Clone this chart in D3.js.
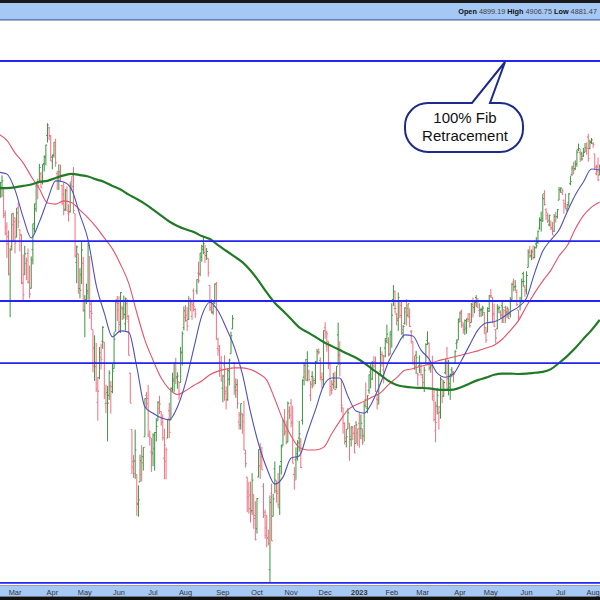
<!DOCTYPE html>
<html><head><meta charset="utf-8">
<script src="https://cdn.jsdelivr.net/npm/d3@7"></script>
<style>html,body{margin:0;padding:0;background:#fff;overflow:hidden}svg{display:block}</style>
</head><body>
<svg id="chart" width="600" height="600"></svg>
<script>
// ---------- DATA ----------
const startDate = "2022-02-14", endDate = "2023-08-08";
const holidays = ["2022-02-21","2022-04-15","2022-05-30","2022-06-20","2022-07-04","2022-09-05","2022-11-24","2022-12-26",
  "2023-01-02","2023-01-16","2023-02-20","2023-04-07","2023-05-29","2023-06-19","2023-07-04"];

const open = [
 4412,4429,4455,4456,4385,4332,4324,4155,4298,4355,
 4364,4322,4401,4342,4328,4202,4223,4253,4279,4203,4188,4289,4345,4398,4462,4470,4494,4470,4523,4541,4602,4624,4600,
 4541,4547,4573,4495,4475,4494,4462,4437,4395,4449,4385,4390,4473,4489,4385,4255,4278,4187,4223,4253,
 4130,4159,4181,4270,4128,4082,4036,3990,3903,3963,4013,4053,4051,3900,3927,3920,3943,3929,3985,4078,4151,
 4149,4095,4137,4135,4097,4148,4102,3974,3838,3763,3764,3733,3665,3716,3733,3774,3821,3920,3913,3826,3785,
 3781,3793,3831,3859,3888,3881,3865,3771,3764,3818,3883,3861,3936,3955,4000,3965,3953,3951,4026,4087,
 4113,4105,4108,4155,4116,4181,4133,4181,4227,4225,4269,4290,4281,4273,4266,4195,4133,4126,4153,4198,4035,4041,4001,
 3937,3994,3930,3910,3959,4022,4084,4000,3940,3932,3856,3849,3875,3871,3782,3727,3682,3686,3651,3687,3633,
 3610,3727,3753,3774,3706,3647,3595,3591,3520,3690,3638,3746,3696,3690,3657,3763,3800,3825,3834,3809,3882,
 3901,3853,3733,3767,3781,3818,3810,3860,3964,3978,4007,3977,3920,3966,3956,3956,4000,4024,4005,3964,3958,
 4087,4041,4053,3996,3933,3947,3954,3940,4069,4016,3958,3890,3853,3810,3839,3853,3815,3843,3829,3805,3830,
 3853,3840,3840,3823,3910,3889,3932,3977,3960,3999,4003,3911,3909,3979,4001,3982,4036,4054,4049,4021,
 4070,4159,4136,4120,4106,4154,4144,4074,4098,4127,4119,4114,4077,4053,4001,4018,3974,3992,3977,
 3964,3938,3998,4055,4048,3987,3999,3907,3835,3894,3876,3879,3958,3918,3975,4002,3960,3940,3982,3974,3999,4047,4056,
 4102,4128,4094,4082,4086,4111,4122,4100,4141,4138,4164,4140,4131,4133,4132,4126,4087,4076,4129,
 4166,4164,4123,4082,4084,4136,4125,4143,4133,4139,4127,4128,4122,4158,4204,4191,4177,4132,4155,4156,4226,4191,
 4184,4242,4283,4272,4285,4268,4304,4308,4346,4367,4366,4440,4396,4380,4355,4354,4344,4338,4368,4377,4422,
 4450,4443,4422,4404,4395,4416,4467,4492,4515,4509,4522,4563,4554,4550,4544,4555,4559,4598,4565,4585,
 4579,4550,4495,4514,4491,4498];
const high = [
 4426,4472,4490,4456,4394,4362,4340,4294,4385,4388,
 4375,4401,4416,4343,4329,4276,4299,4268,4292,4247,4271,4358,4412,4465,4481,4522,4500,4521,4546,4576,4637,4627,4603,
 4548,4583,4593,4503,4521,4520,4464,4471,4453,4460,4411,4471,4489,4513,4385,4300,4278,4240,4309,4270,
 4170,4200,4308,4271,4158,4082,4068,4049,3965,4039,4047,4091,4051,3946,3943,3981,3955,3999,4076,4158,4168,
 4167,4178,4143,4169,4164,4160,4119,3975,3838,3778,3838,3733,3708,3779,3801,3796,3913,3928,3945,3836,3818,
 3829,3832,3865,3906,3919,3881,3874,3840,3796,3863,3902,3939,3975,4000,4012,3976,3953,4039,4078,4141,
 4145,4140,4167,4162,4152,4187,4137,4211,4257,4280,4302,4325,4302,4293,4266,4195,4160,4156,4200,4204,4062,4044,4016,
 3970,4018,3942,3987,4010,4077,4119,4000,3961,3959,3880,3900,3877,3907,3790,3727,3716,3717,3736,3687,3672,
 3679,3791,3806,3797,3713,3653,3641,3608,3685,3712,3689,3763,3719,3737,3754,3803,3862,3887,3859,3905,3893,
 3911,3895,3750,3796,3813,3859,3818,3959,4001,4009,4028,3983,3955,3979,3963,4004,4034,4035,4013,3976,4080,
 4101,4080,4053,4001,3957,3975,3978,3991,4100,4053,3958,3890,3855,3839,3889,3853,3845,3846,3849,3858,3840,
 3879,3874,3840,3906,3951,3920,3971,3997,4004,4016,4015,3922,3973,4039,4028,4019,4061,4095,4063,4077,
 4149,4196,4182,4125,4177,4156,4157,4094,4139,4160,4148,4136,4081,4053,4017,4029,3974,4018,3997,
 3972,3990,4048,4078,4050,4001,4017,3935,3905,3938,3894,3965,3959,3957,4010,4039,4007,3973,3989,3979,4031,4058,4110,
 4128,4133,4100,4108,4110,4124,4124,4150,4164,4152,4170,4163,4149,4138,4143,4127,4089,4139,4170,
 4186,4165,4148,4083,4147,4143,4131,4154,4133,4143,4141,4135,4165,4202,4213,4209,4185,4132,4166,4213,4231,4196,
 4232,4290,4299,4289,4300,4298,4322,4340,4375,4391,4439,4449,4400,4387,4382,4367,4363,4384,4390,4398,4458,
 4457,4454,4423,4440,4412,4441,4489,4517,4528,4532,4562,4579,4564,4556,4567,4581,4582,4607,4590,4595,
 4584,4550,4520,4540,4520,4503];
const low = [
 4364,4429,4430,4373,4327,4267,4221,4114,4287,4312,
 4279,4322,4346,4284,4199,4157,4223,4209,4200,4162,4187,4250,4335,4390,4424,4469,4456,4465,4501,4518,4582,4589,4530,
 4507,4539,4514,4450,4450,4474,4408,4381,4393,4392,4364,4388,4448,4386,4268,4201,4175,4162,4199,4128,
 4063,4147,4158,4110,4082,3976,3955,3928,3859,3959,3983,4034,3911,3877,3810,3909,3876,3925,3985,4078,4104,
 4074,4074,4107,4110,4080,4107,4018,3901,3734,3725,3723,3639,3637,3716,3717,3742,3821,3889,3820,3800,3739,
 3752,3742,3810,3859,3875,3847,3812,3722,3722,3818,3818,3860,3929,3927,3947,3936,3910,3951,3993,4080,
 4102,4079,4107,4129,4107,4128,4112,4172,4201,4219,4257,4277,4254,4262,4218,4129,4123,4120,4147,4057,4017,3965,3954,
 3903,3907,3886,3907,3944,4022,4084,3921,3914,3888,3838,3838,3828,3789,3749,3647,3644,3624,3641,3610,3584,
 3599,3727,3723,3744,3634,3588,3569,3573,3492,3583,3638,3690,3669,3658,3641,3733,3800,3825,3803,3808,3863,
 3843,3759,3698,3721,3765,3786,3748,3850,3944,3956,3954,3954,3906,3937,3941,3947,3997,4020,3956,3937,3939,
 4059,4027,3984,3918,3922,3936,3933,3937,3994,3966,3879,3828,3803,3796,3839,3765,3798,3813,3783,3805,3800,
 3795,3815,3802,3810,3890,3877,3924,3937,3957,3985,3928,3886,3898,3972,3990,3949,4013,4048,4015,4020,
 4037,4142,4123,4093,4079,4111,4069,4060,4095,4093,4113,4089,4047,3995,3982,3972,3943,3974,3968,
 3939,3928,3995,4044,3980,3975,3908,3857,3808,3874,3838,3864,3901,3917,3971,3936,3920,3909,3964,3951,3999,4033,4056,
 4101,4087,4072,4069,4072,4101,4087,4100,4113,4124,4140,4136,4114,4114,4117,4072,4049,4076,4127,
 4164,4098,4089,4048,4084,4124,4110,4099,4099,4099,4111,4109,4113,4154,4180,4180,4142,4103,4131,4154,4192,4166,
 4172,4242,4267,4261,4263,4266,4292,4304,4342,4337,4363,4407,4368,4360,4351,4341,4328,4336,4361,4372,4422,
 4442,4436,4385,4398,4390,4404,4463,4489,4493,4505,4514,4558,4527,4531,4542,4555,4548,4528,4563,4578,
 4567,4505,4490,4474,4491,4464];
const close = [
 4401,4471,4475,4380,4349,4304,4225,4288,4385,4374,
 4306,4387,4363,4329,4201,4171,4278,4260,4204,4173,4262,4358,4412,4463,4461,4512,4456,4520,4543,4575,4632,4602,4530,
 4546,4583,4525,4481,4500,4488,4413,4397,4447,4392,4391,4463,4459,4394,4272,4296,4175,4183,4288,4132,
 4155,4175,4300,4147,4123,3991,4001,3935,3930,4024,4008,4088,3923,3901,3901,3974,3941,3979,4058,4158,4132,
 4101,4177,4109,4121,4161,4116,4018,3901,3750,3735,3790,3667,3675,3765,3760,3796,3912,3900,3822,3819,3785,
 3825,3831,3845,3903,3899,3855,3819,3801,3790,3863,3831,3937,3960,3999,3962,3967,3921,4024,4072,4130,
 4119,4091,4155,4152,4145,4140,4122,4210,4207,4280,4297,4305,4274,4284,4228,4138,4128,4141,4199,4058,4031,3986,3955,
 3967,3924,3908,3980,4006,4067,4110,3932,3946,3901,3873,3900,3856,3790,3758,3693,3655,3648,3720,3640,3586,
 3678,3791,3783,3744,3640,3612,3589,3577,3669,3583,3677,3720,3695,3665,3752,3797,3859,3830,3807,3901,3872,
 3856,3759,3720,3771,3807,3828,3749,3956,3993,3957,3992,3959,3947,3965,3950,4003,4027,4026,3964,3958,4080,
 4076,4072,3999,3941,3933,3963,3934,3991,4019,3996,3896,3852,3818,3821,3878,3822,3845,3829,3783,3849,3840,
 3825,3853,3808,3895,3893,3919,3970,3983,3999,3991,3929,3899,3973,4020,4017,4016,4060,4071,4018,4077,
 4119,4180,4136,4111,4164,4118,4082,4090,4137,4136,4148,4090,4079,3997,3991,4012,3970,3982,3970,
 3951,3981,4045,4048,3986,3992,3918,3862,3855,3920,3892,3960,3917,3951,4002,3937,3948,3971,3977,3971,4027,4051,4109,
 4124,4101,4091,4105,4109,4108,4092,4146,4138,4151,4155,4154,4130,4133,4137,4072,4056,4136,4169,
 4168,4119,4091,4061,4136,4138,4119,4138,4131,4124,4136,4110,4159,4198,4192,4193,4146,4115,4151,4205,4206,4180,
 4221,4282,4273,4283,4268,4294,4299,4338,4369,4373,4426,4410,4389,4366,4381,4348,4328,4378,4377,4396,4450,
 4455,4447,4412,4399,4410,4439,4473,4510,4505,4522,4555,4565,4535,4536,4554,4567,4566,4537,4582,4589,
 4577,4513,4501,4478,4518,4499];

// moving averages, one reading every 5 sessions from the first session
const maStep = 5;
const maShort = [4499,4494,4450,4376,4320,4363,4422,4475,4472,4450,
 4382,4315,4196,4124,4064,4079,4076,3989,3892,3877,
 3866,3861,3892,3950,4034,4117,4152,4130,4087,4039,
 3972,3880,3804,3748,3711,3727,3771,3776,3830,3885,
 3943,3962,3962,3918,3882,3877,3904,3948,4002,4039,
 4069,4066,4031,4009,3974,3964,3972,4006,4044,4081,
 4099,4102,4112,4127,4140,4163,4228,4285,4315,4341,
 4390,4436,4472,4508,4505];
const maMid = [4606,4588,4553,4525,4487,4453,4414,4411,4420,4415,
 4395,4374,4349,4320,4291,4250,4201,4125,4056,4006,
 3962,3935,3922,3931,3944,3955,3970,3979,3984,3987,
 3987,3983,3973,3957,3911,3861,3823,3796,3790,3790,
 3796,3828,3858,3885,3897,3906,3916,3926,3946,3963,
 3981,3985,3991,3996,4004,4009,4014,4019,4024,4029,
 4036,4043,4058,4080,4105,4142,4176,4207,4235,4272,
 4299,4344,4380,4403,4417];
const maLong = [4455,4455,4457,4461,4465,4472,4475,4483,4490,4494,
 4491,4487,4479,4472,4461,4451,4437,4425,4412,4396,
 4380,4364,4352,4343,4336,4325,4317,4301,4286,4271,
 4256,4234,4207,4177,4150,4130,4109,4088,4076,4064,
 4051,4041,4031,4021,4012,3999,3984,3970,3955,3945,
 3941,3939,3938,3937,3934,3933,3934,3940,3949,3957,
 3963,3970,3973,3973,3972,3973,3975,3977,3984,3999,
 4016,4036,4059,4081,4107];

const fibHigh = 4818.62, fibLow = 3491.58;
const fibLevels = [1, 0.618, 0.5, 0.382, 0];
const monthNames = ["Jan","Feb","Mar","Apr","May","Jun","Jul","Aug","Sep","Oct","Nov","Dec"];
const quoteLabels = ["Open","High","Low"];
const quoteValues = ["4899.19","4906.75","4881.47"];
const calloutLines = ["100% Fib","Retracement"];

// ---------- BUILD ----------
const parse = d3.timeParse("%Y-%m-%d"), fmt = d3.timeFormat("%Y-%m-%d");
const hol = new Set(holidays);
const dates = [];
for (let d = parse(startDate); d <= parse(endDate); d = d3.timeDay.offset(d, 1)) {
  const w = d.getDay();
  if (w === 0 || w === 6 || hol.has(fmt(d))) continue;
  dates.push(d);
}
const n = Math.min(dates.length, close.length);

const W = 600, H = 600;
const plotTop = 21, plotBottom = 583;
const x = d3.scaleLinear().domain([0, 1]).range([-1.24, -1.24 + 1.624]);
const y = d3.scaleLog().domain([fibLow, fibHigh]).range([582.8, 61]);

const svg = d3.select("#chart");
svg.append("rect").attr("width", W).attr("height", H).attr("fill", "#fff");

// header band
svg.append("rect").attr("x", 0).attr("y", 0).attr("width", W).attr("height", 3).attr("fill", "#1a1a1a");
svg.append("rect").attr("x", 0).attr("y", 3).attr("width", W).attr("height", 16).attr("fill", "#a6c8f4");
svg.append("rect").attr("x", 0).attr("y", 19).attr("width", W).attr("height", 1.6).attr("fill", "#6282b8");
const qt = svg.append("text").attr("x", 597).attr("y", 14.3).attr("text-anchor", "end")
  .attr("font-family", "Arial, 'Liberation Sans', sans-serif").attr("font-size", 7.3).attr("fill", "#111");
quoteLabels.forEach((lab, k) => {
  qt.append("tspan").attr("font-weight", "bold").text((k ? " " : "") + lab + " ");
  qt.append("tspan").attr("fill", "#444").text(quoteValues[k]);
});

// clip
svg.append("clipPath").attr("id", "clip").append("rect")
  .attr("x", 0).attr("y", plotTop).attr("width", W).attr("height", plotBottom - plotTop);
const plot = svg.append("g").attr("clip-path", "url(#clip)");

// bars
const upCol = "#3b953f", dnCol = "#ef6f81";
const bars = plot.append("g").attr("stroke-width", 1).attr("fill", "none");
for (let i = 0; i < n; i++) {
  const up = i === 0 ? close[i] >= open[i] : close[i] >= close[i - 1];
  const c = up ? upCol : dnCol;
  const X = x(i);
  bars.append("line").attr("x1", X).attr("x2", X).attr("y1", y(high[i])).attr("y2", y(low[i])).attr("stroke", c);
  bars.append("line").attr("x1", X - 1.3).attr("x2", X).attr("y1", y(open[i])).attr("y2", y(open[i])).attr("stroke", c);
  bars.append("line").attr("x1", X).attr("x2", X + 1.3).attr("y1", y(close[i])).attr("y2", y(close[i])).attr("stroke", c);
}

// moving averages
const maLine = d3.line().x((d, k) => x(k * maStep)).y(d => y(d)).curve(d3.curveMonotoneX);
plot.append("path").datum(maMid).attr("d", maLine).attr("fill", "none").attr("stroke", "#e6536a").attr("stroke-width", 1.1);
plot.append("path").datum(maShort).attr("d", maLine).attr("fill", "none").attr("stroke", "#5050c0").attr("stroke-width", 1.1);
plot.append("path").datum(maLong).attr("d", maLine).attr("fill", "none").attr("stroke", "#217a26").attr("stroke-width", 2.2);

// fib lines
fibLevels.forEach(l => {
  const p = fibLow + l * (fibHigh - fibLow);
  svg.append("line").attr("x1", 0).attr("x2", W).attr("y1", y(p)).attr("y2", y(p))
    .attr("stroke", "#2424f0").attr("stroke-width", 1.8);
});

// bottom axis band
svg.append("rect").attr("x", 0).attr("y", 585.2).attr("width", W).attr("height", 1.3).attr("fill", "#7a8aa8");
svg.append("rect").attr("x", 0).attr("y", 586.5).attr("width", W).attr("height", 10).attr("fill", "#a6c8f4");
svg.append("rect").attr("x", 0).attr("y", 596.5).attr("width", W).attr("height", 3.5).attr("fill", "#111");
const ticks = [];
for (let i = 1; i < n; i++) {
  if (dates[i].getMonth() !== dates[i - 1].getMonth()) ticks.push(i);
}
svg.append("g").selectAll("text").data(ticks).join("text")
  .attr("x", i => x(i)).attr("y", 594.8).attr("text-anchor", "middle")
  .attr("font-family", "Arial, 'Liberation Sans', sans-serif").attr("font-size", 7.4)
  .attr("font-weight", i => dates[i].getMonth() === 0 ? "bold" : "normal")
  .attr("fill", "#333")
  .text(i => dates[i].getMonth() === 0 ? String(dates[i].getFullYear()) : monthNames[dates[i].getMonth()]);

// callout
const tipX = 505, tipY = y(fibHigh) + 1;
const bx0 = 405, bx1 = 523, by0 = 103, by1 = 152, r = 23, wa = 472, wb = 490;
const bubble = `M${bx0 + r},${by0} L${wa},${by0} L${tipX},${tipY} L${wb},${by0} L${bx1 - r},${by0}
  A${r},${r} 0 0 1 ${bx1},${by0 + r} L${bx1},${by1 - r} A${r},${r} 0 0 1 ${bx1 - r},${by1}
  L${bx0 + r},${by1} A${r},${r} 0 0 1 ${bx0},${by1 - r} L${bx0},${by0 + r} A${r},${r} 0 0 1 ${bx0 + r},${by0} Z`;
svg.append("path").attr("d", bubble).attr("fill", "#fff").attr("stroke", "#1c2a8c").attr("stroke-width", 2);
svg.append("g").selectAll("text").data(calloutLines).join("text")
  .attr("x", 465).attr("y", (d, k) => 123 + k * 17.5).attr("text-anchor", "middle")
  .attr("font-family", "Arial, 'Liberation Sans', sans-serif").attr("font-size", 15).attr("fill", "#111")
  .text(d => d);
</script>
</body></html>
